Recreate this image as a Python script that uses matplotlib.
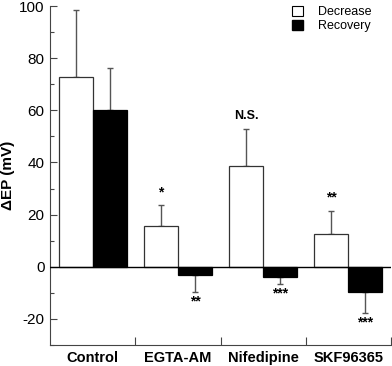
import numpy as np
import matplotlib
matplotlib.use("Agg")
from matplotlib import pyplot as plt
from matplotlib.ticker import MultipleLocator
from matplotlib.patches import Patch

plt.rcParams['font.family'] = ['Liberation Sans', 'DejaVu Sans']
plt.rcParams['axes.unicode_minus'] = False

groups = ["Control", "EGTA-AM", "Nifedipine", "SKF96365"]
decrease = [72.6, 15.7, 38.7, 12.6]
decrease_err = [26.0, 7.8, 14.2, 8.9]
recovery = [60.3, -3.0, -3.8, -9.6]
recovery_err = [15.8, 6.6, 2.7, 8.1]
decrease_sig = ["", "*", "N.S.", "**"]
recovery_sig = ["", "**", "***", "***"]

fig = plt.figure(figsize=(3.92, 3.66), dpi=100)
ax = fig.add_axes([50/392, 21/366, 341/392, 339/366])

x = np.arange(len(groups))
w = 0.4
ecol = "#555555"

ax.bar(x - w/2, decrease, w, color="white", edgecolor="#333333", linewidth=0.9, zorder=2)
ax.bar(x + w/2, recovery, w, color="black", edgecolor="black", linewidth=0.9, zorder=2)

# one-sided error bars: upward for positive bars, downward for negative
for xs, vals, errs in [(x - w/2, decrease, decrease_err), (x + w/2, recovery, recovery_err)]:
    for xi, v, e in zip(xs, vals, errs):
        ax.errorbar(xi, v, yerr=[[0], [e]] if v >= 0 else [[e], [0]], fmt="none",
                    ecolor=ecol, elinewidth=1.0, capsize=2.5, capthick=1.0, zorder=1)

for xi, v, e, s in zip(x - w/2, decrease, decrease_err, decrease_sig):
    if s:
        ax.text(xi, v + e + 2.5, s, ha="center", va="bottom",
                fontsize=10 if s != "N.S." else 9, fontweight="bold")
for xi, v, e, s in zip(x + w/2, recovery, recovery_err, recovery_sig):
    if s:
        ax.text(xi, v - e - 1.0, s, ha="center", va="top", fontsize=10, fontweight="bold")

ax.axhline(0, color="black", linewidth=1.0, zorder=3)

ax.set_xlim(-0.5, 3.5)
ax.set_ylim(-30, 100)
ax.yaxis.set_major_locator(MultipleLocator(20))
ax.yaxis.set_minor_locator(MultipleLocator(10))
ax.tick_params(axis="y", which="major", direction="in", length=5, width=0.8,
               labelsize=11, pad=4, color="#444444")
ax.tick_params(axis="y", which="minor", direction="in", length=3, width=0.8, color="#444444")

ax.set_xticks(x + 0.5)
ax.set_xticklabels([])
ax.tick_params(axis="x", which="major", direction="in", length=6, width=0.8, color="#444444")
for xi, g in zip(x, groups):
    ax.text(xi, -35, g, ha="center", va="center", fontsize=10.5, fontweight="bold")

ax.spines["top"].set_visible(False)
ax.spines["right"].set_visible(False)
ax.spines["left"].set_color("#444444")
ax.spines["bottom"].set_color("#444444")

ax.set_ylabel("ΔEP (mV)", fontsize=11, fontweight="bold")
ax.yaxis.set_label_coords(-0.103, 0.5)

handles = [Patch(facecolor="white", edgecolor="black", linewidth=0.8, label="Decrease"),
           Patch(facecolor="black", edgecolor="black", label="Recovery")]
ax.legend(handles=handles, loc="upper right", bbox_to_anchor=(0.942, 1.0), frameon=False,
          fontsize=9, handlelength=0.85, handleheight=0.85, handletextpad=1.2,
          labelspacing=0.15, borderpad=0, borderaxespad=0)

fig.savefig("out.png", dpi=100)
